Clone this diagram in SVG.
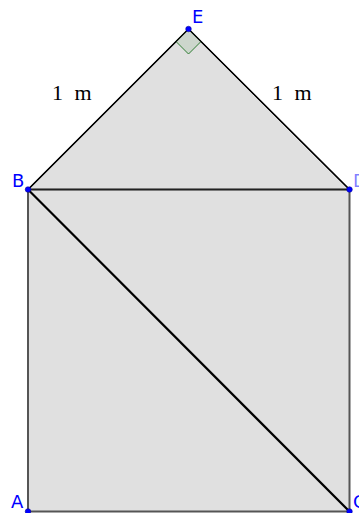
<svg xmlns="http://www.w3.org/2000/svg" width="359" height="513" viewBox="0 0 359 513">
<style>
.lbl{font-family:"DejaVu Sans",sans-serif;font-size:18px;fill:#0000ff}
.m{font-family:"Liberation Serif",serif;font-size:22px;fill:#000;word-spacing:6px}
.pt{fill:#0000ff;stroke:#00008b;stroke-width:0.5}
</style>
<rect width="359" height="513" fill="#fff"/>
<g id="shapes">
<polygon id="triangle" points="28,189.5 188.5,29 349.5,189.5" fill="#e0e0e0" stroke="#000" stroke-width="1.2"/>
<rect id="square" x="28" y="189.5" width="321.5" height="322" fill="#e0e0e0" stroke="#555" stroke-width="2"/>
<polygon id="rightangle" points="188.5,29 176,41.5 188.5,54 201,41.5" fill="#ccd6cc" stroke="#2e7d32" stroke-width="1"/>
</g>
<g id="connectors">
<line x1="28" y1="189.5" x2="349.5" y2="189.5" stroke="#222" stroke-width="1.5"/>
<line x1="28" y1="189.5" x2="349.5" y2="511.5" stroke="#000" stroke-width="2.2"/>
<line x1="28" y1="189.5" x2="188.5" y2="29" stroke="#000" stroke-width="1.2"/>
<line x1="188.5" y1="29" x2="349.5" y2="189.5" stroke="#000" stroke-width="1.2"/>
</g>
<g id="E"><circle class="pt" cx="188.5" cy="29" r="2.8"/><text class="lbl" x="192" y="23">E</text></g>
<g id="B"><circle class="pt" cx="28" cy="189.5" r="2.8"/><text class="lbl" x="12" y="187">B</text></g>
<g id="D"><circle class="pt" cx="349.5" cy="189.5" r="2.8"/><text class="lbl" x="353" y="187" fill-opacity="0.5">D</text></g>
<g id="A"><circle class="pt" cx="28" cy="511.5" r="2.8"/><text class="lbl" x="11" y="508">A</text></g>
<g id="C"><circle class="pt" cx="349.5" cy="511.5" r="2.8"/><text class="lbl" x="353" y="508">C</text></g>
<g id="labels">
<text class="m" x="52" y="100">1 m</text>
<text class="m" x="272" y="100">1 m</text>
</g>
</svg>
